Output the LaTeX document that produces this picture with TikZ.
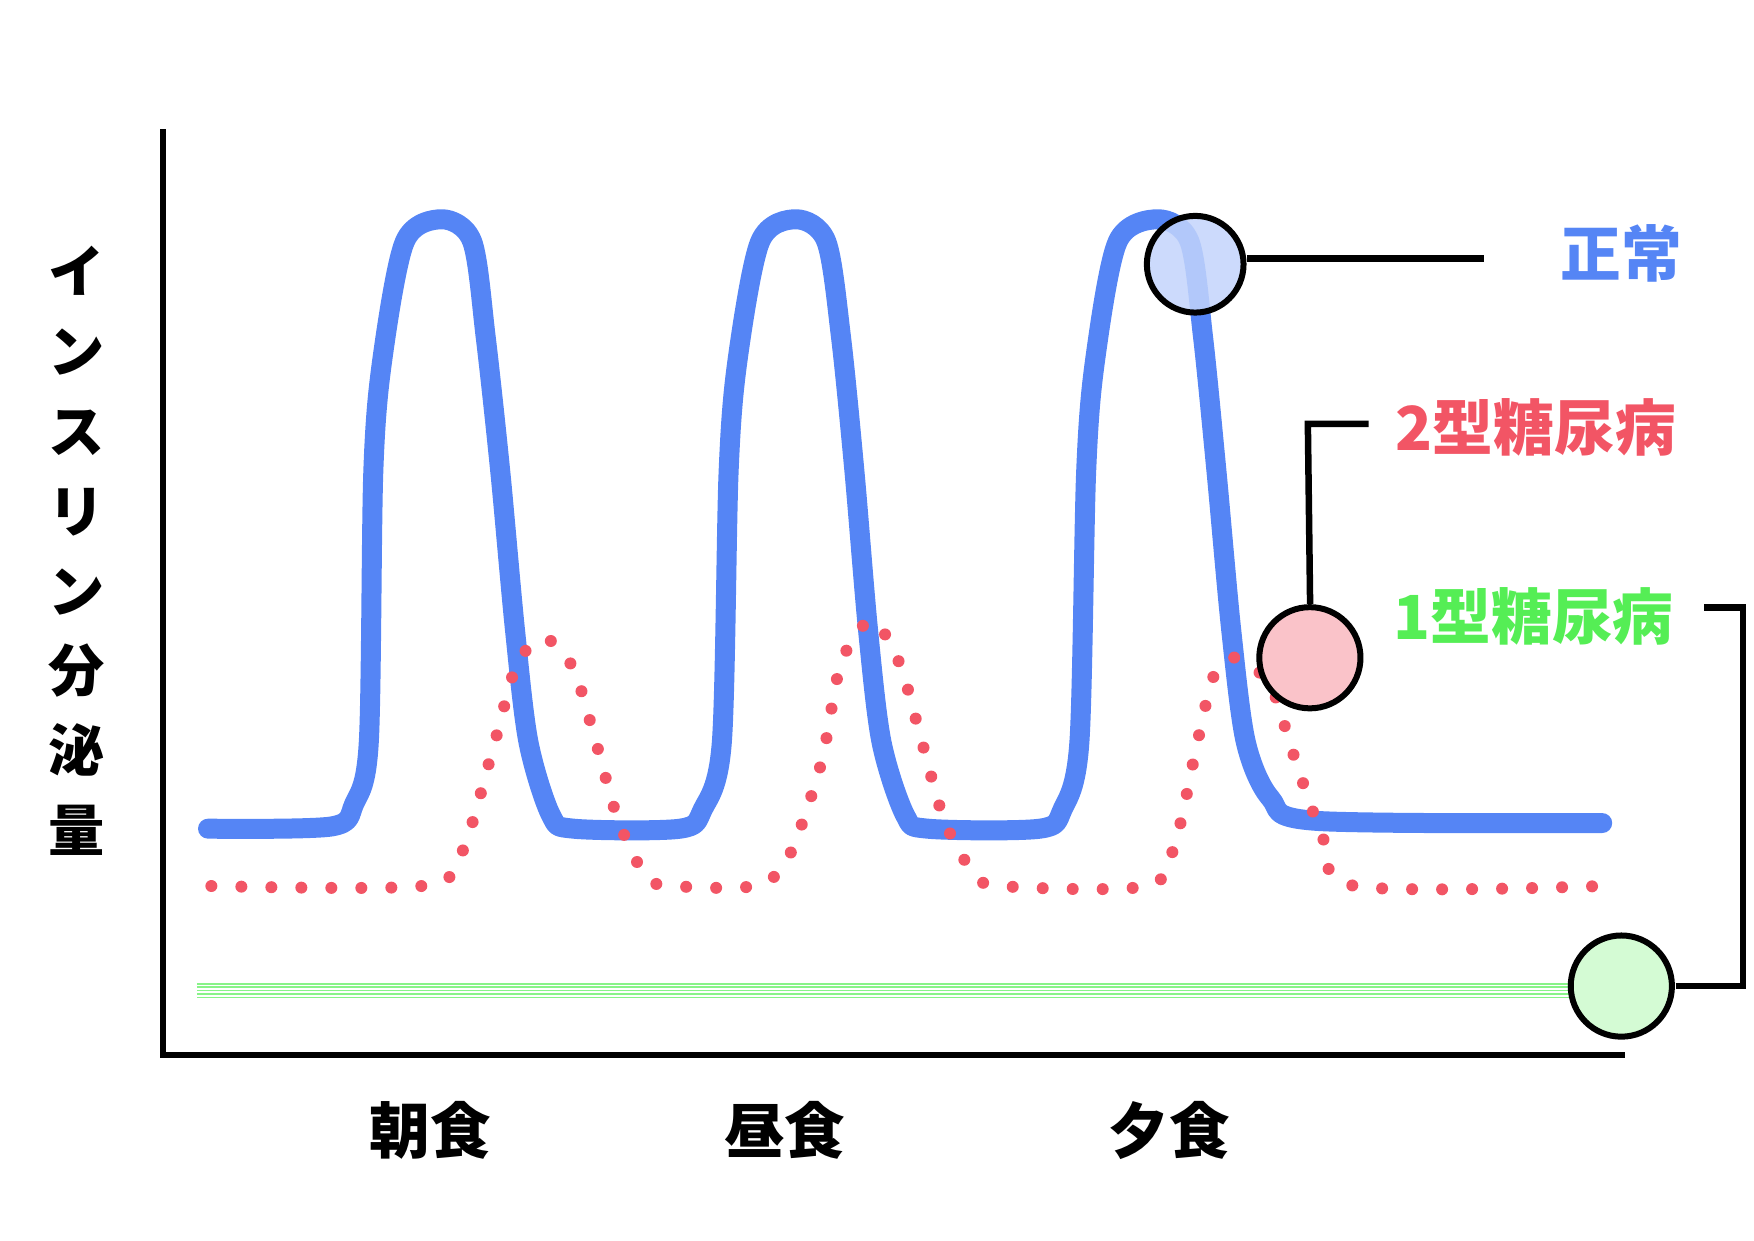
\documentclass[tikz,border=0pt]{standalone}
\usepackage{fontspec}
\newfontfamily\cjk{Noto Sans CJK JP}
\begin{document}
\begin{tikzpicture}[x=1pt,y=-1pt,scale=1.1244,every node/.append style={transform shape},
  lbl/.style={font=\cjk\bfseries\fontsize{54}{60}\selectfont,inner sep=0pt},
  mk/.style={draw=black,line width=6pt}]
\definecolor{blu}{HTML}{5585F5}
\definecolor{rd}{HTML}{F25565}
\definecolor{gr}{HTML}{55EE55}
\useasboundingbox (0,0) rectangle (1560,1103);
% axes
\coordinate (ytop) at (145,115);
\coordinate (orig) at (145,938);
\coordinate (xend) at (1445,938);
\draw[line width=5.5pt] (ytop) -- (orig) -- (xend);
% green lines
\foreach \d in {-6,-3,0,3,6}
  \draw[gr!70,line width=1.5pt] (175,881+\d) -- (1445,881+\d);
% blue curve
\draw[blu,line width=20pt,line cap=round,line join=round] plot[smooth,tension=0.5] coordinates {
(185,737) (295,735) (315,715) (328,660) (332,420) (340,320) (360,215) (393,195) (420,215) (432,300) (445,420) (458,560) (470,660) (490,725) (510,737)
(605,737) (625,720) (642,660) (648,420) (656,320) (676,215) (708,195) (735,215) (748,300) (760,420) (772,560) (784,660) (805,725) (825,737)
(925,737) (945,720) (960,660) (966,420) (974,320) (994,215) (1030,195) (1058,215) (1070,300) (1082,420) (1095,560) (1108,660) (1130,710) (1170,730) (1425,732)};
% red dots
\draw[rd,line width=12pt,line cap=round,dash pattern=on 0pt off 30pt] plot[smooth,tension=0.5] coordinates {
(188,788) (375,788) (410,760) (440,660) (460,590) (485,568) (510,595) (530,660) (550,730) (575,780) (600,788)
(670,788) (700,765) (730,680) (748,590) (775,552) (800,590) (820,660) (840,730) (865,775) (890,788)
(1020,788) (1045,750) (1065,660) (1080,600) (1100,585) (1130,610) (1150,670) (1175,740) (1205,788) (1425,788)};
% markers
\node[mk,circle,minimum size=86pt,fill=blu!35,fill opacity=0.85,draw opacity=1] (cb) at (1063,235) {};
\node[mk,circle,minimum size=90pt,fill=rd!35] (cr) at (1165,585) {};
\node[mk,circle,minimum size=90pt,fill=gr!25] (cg) at (1442,877) {};
\coordinate (bL) at (1320,230);
\draw[line width=6.5pt] (cb.east|-bL) -- (bL);
\coordinate (rA) at (1163,377);
\coordinate (rB) at (1217,377);
\draw[line width=6.5pt] (cr.north) -- (rA) -- (rB);
\coordinate (gA) at (1550,877);
\coordinate (gB) at (1550,540);
\coordinate (gC) at (1515,540);
\draw[line width=6.5pt] (cg.east) -- (gA) -- (gB) -- (gC);
% labels
\node[lbl,text=blu] (l1) at (1442,225) {正常};
\node[lbl,text=rd] (l2) at (1366,380) {2型糖尿病};
\node[lbl,text=gr] (l3) at (1364,548) {1型糖尿病};
\node[lbl] (x1) at (383,1005) {朝食};
\node[lbl] (x2) at (698,1005) {昼食};
\node[lbl] (x3) at (1040,1005) {夕食};
\node[lbl,align=center,font=\cjk\bfseries\fontsize{50}{71}\selectfont] (yl) at (68,490) {イ\\ン\\ス\\リ\\ン\\分\\泌\\量};
\end{tikzpicture}
\end{document}
